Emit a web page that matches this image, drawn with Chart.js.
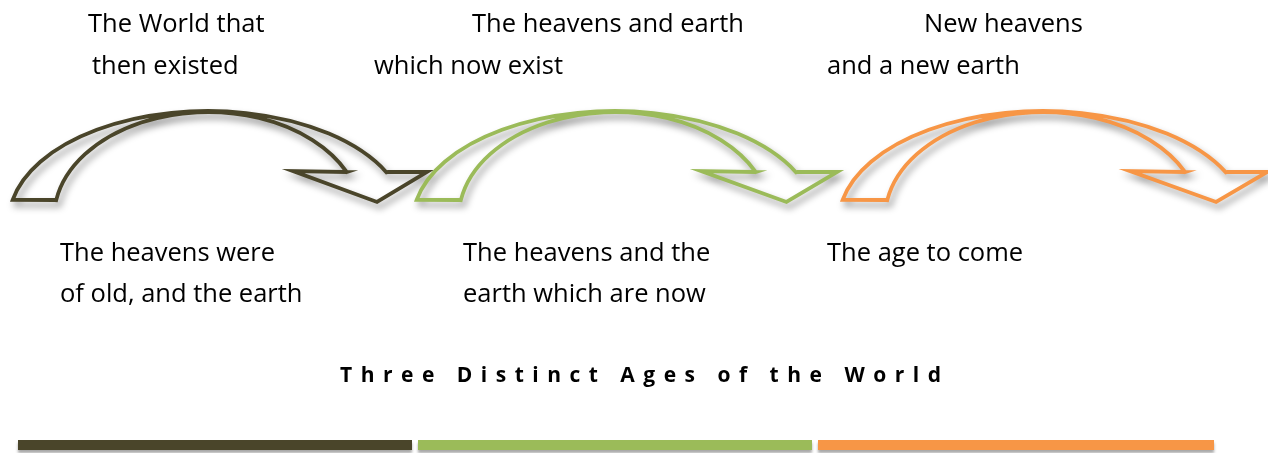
<!DOCTYPE html>
<html>
<head>
<meta charset="utf-8">
<script src="https://cdn.jsdelivr.net/npm/chart.js@4.4.1/dist/chart.umd.min.js"></script>
<style>
  html, body { margin: 0; padding: 0; background: #fff; }
  canvas { display: block; }
</style>
</head>
<body>
<canvas id="ages" width="1268" height="453"></canvas>
<script>
// Three ages, one timeline segment each
const ageSpans = [[0, 0.985], [1, 1.985], [2, 2.99]];
const topLabels = [
    ['The World that', 'then existed'],
    ['The heavens and earth', 'which now exist'],
    ['New heavens', 'and a new earth']
];
const bottomLabels = [
    ['The heavens were', 'of old, and the earth'],
    ['The heavens and the', 'earth which are now'],
    ['The age to come']
];
const chartTitle = 'Three Distinct Ages of the World';
const ageColors = ['#4A452A', '#9BBB59', '#F79646'];

// layout (pixels, relative to the start of each age on the x scale)
const layout = {
    barY: 445,
    arrowBottom: 200,
    arrowShift: [-5, -1, 25],
    arrowScale: [1.0, 1.015, 1.025],
    topLine1: [70, 54, 106],
    topLine2: [74, -44, 9],
    bottomX: [42, 45, 9],
    topBase: [32, 74],
    bottomBase: [261, 302],
    titleX: 340,
    titleBase: 382
};

function drawArrow(ctx, L, B, s, color) {
    // outer arc, arrow head, inner arc back
    const ocx = L + 195 * s, ocy = B + 21, orx = 199 * s, ory = 110;
    const icx = L + 195 * s, icy = B + 18, irx = 154 * s, iry = 106;
    const ang = (cx, cy, rx, ry, x, y) => {
        let a = Math.atan2((y - cy) / ry, (x - cx) / rx);
        if (a < 0) a += Math.PI * 2;
        return a;
    };
    const oa0 = ang(ocx, ocy, orx, ory, L, B);
    const oa1 = ang(ocx, ocy, orx, ory, L + 375 * s, B - 28);
    const ia0 = ang(icx, icy, irx, iry, L + 42 * s, B);
    const ia1 = ang(icx, icy, irx, iry, L + 334 * s, B - 28);

    ctx.beginPath();
    ctx.ellipse(ocx, ocy, orx, ory, 0, oa0, oa1, false);
    ctx.lineTo(L + 375 * s, B - 28);
    ctx.lineTo(L + 414 * s, B - 28);
    ctx.lineTo(L + 364 * s, B + 2);
    ctx.lineTo(L + 280 * s, B - 29);
    ctx.lineTo(L + 334 * s, B - 28);
    ctx.ellipse(icx, icy, irx, iry, 0, ia1, ia0, true);
    ctx.lineTo(L + 42 * s, B);
    ctx.closePath();

    ctx.save();
    ctx.lineJoin = 'miter';
    ctx.lineWidth = 3.8;
    ctx.strokeStyle = color;
    ctx.shadowColor = 'rgba(0, 0, 0, 0.4)';
    ctx.shadowBlur = 7;
    ctx.shadowOffsetX = 3;
    ctx.shadowOffsetY = 5;
    ctx.stroke();
    ctx.restore();
}

const diagramPlugin = {
    id: 'diagram',
    beforeDatasetsDraw(chart) {
        const ctx = chart.ctx;
        ctx.save();
        ctx.shadowColor = 'rgba(0, 0, 0, 0.35)';
        ctx.shadowBlur = 3;
        ctx.shadowOffsetY = 3;
    },
    afterDatasetsDraw(chart) {
        const ctx = chart.ctx;
        ctx.restore();
        const x = chart.scales.x;

        // arrows
        ageSpans.forEach((span, i) => {
            const L = x.getPixelForValue(span[0]) + layout.arrowShift[i];
            drawArrow(ctx, L, layout.arrowBottom, layout.arrowScale[i], ageColors[i]);
        });

        // labels
        ctx.save();
        ctx.fillStyle = '#000';
        ctx.textBaseline = 'alphabetic';
        ctx.textAlign = 'left';
        ctx.font = '25.5px "Open Sans", Lato, sans-serif';
        topLabels.forEach((lines, i) => {
            const x0 = x.getPixelForValue(ageSpans[i][0]);
            ctx.fillText(lines[0], x0 + layout.topLine1[i], layout.topBase[0]);
            ctx.fillText(lines[1], x0 + layout.topLine2[i], layout.topBase[1]);
        });
        bottomLabels.forEach((lines, i) => {
            const x0 = x.getPixelForValue(ageSpans[i][0]) + layout.bottomX[i];
            lines.forEach((line, j) => ctx.fillText(line, x0, layout.bottomBase[j]));
        });

        // title, spread out
        ctx.font = 'bold 21px "Open Sans", Lato, sans-serif';
        ctx.letterSpacing = '8.5px';
        ctx.fillText(chartTitle, layout.titleX, layout.titleBase);
        ctx.restore();
    }
};

const ctx = document.getElementById('ages').getContext('2d');
const agesChart = new Chart(ctx, {
    type: 'line',
    data: {
        datasets: ageSpans.map((span, i) => ({
            label: topLabels[i].join(' '),
            data: [{ x: span[0], y: layout.barY }, { x: span[1], y: layout.barY }],
            borderColor: ageColors[i],
            borderWidth: 10,
            borderCapStyle: 'butt',
            pointRadius: 0,
            fill: false
        }))
    },
    options: {
        responsive: false,
        animation: false,
        layout: { padding: 0 },
        scales: {
            x: { type: 'linear', min: -0.045, max: 3.125, display: false },
            y: { type: 'linear', min: 0, max: 453, reverse: true, display: false }
        },
        plugins: {
            legend: { display: false },
            tooltip: { enabled: false }
        }
    },
    plugins: [diagramPlugin]
});
</script>
</body>
</html>
